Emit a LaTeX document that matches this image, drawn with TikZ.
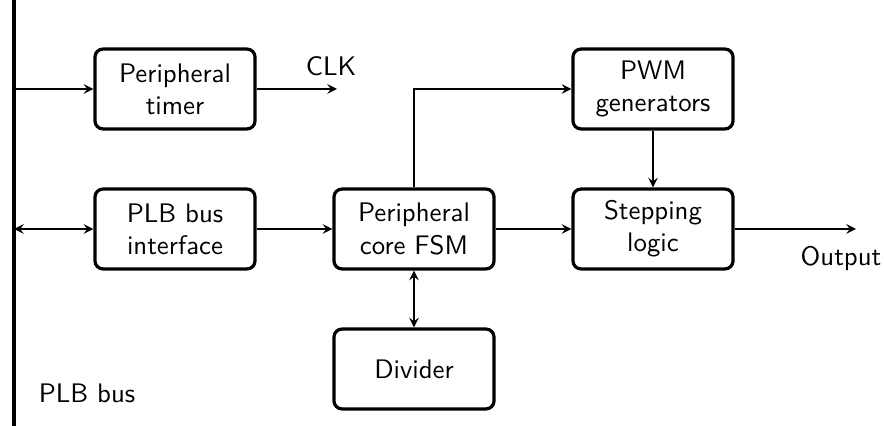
\documentclass[tikz,border=0pt]{standalone}
\usepackage{amsmath,amssymb}
\usepackage{xcolor}
\usetikzlibrary{positioning,arrows}

\tikzset{
  block/.style={draw,very thick,rounded corners=3pt,minimum width=59.7pt,minimum height=29.8pt,align=center,inner sep=1pt,font=\sffamily},
  link/.style={semithick,-stealth},
  dlink/.style={semithick,stealth-stealth},
  lbl/.style={font=\sffamily,inner sep=1pt}
}

\begin{document}
\begin{tikzpicture}[x=0.373pt,y=-0.373pt]
\useasboundingbox (0,0) rectangle (884,426);
% bus
\coordinate (bustop) at (14,0);
\coordinate (busbot) at (14,426);
\draw[line width=1.6pt] (bustop)--(busbot);
\node[lbl] (buslbl) at (87,393) {PLB bus};
% blocks
\node[block] (timer) at (175,89) {Peripheral\\timer};
\node[block] (plbif) at (175,229) {PLB bus\\interface};
\node[block] (fsm) at (414,229) {Peripheral\\core FSM};
\node[block] (pwm) at (653,89) {PWM\\generators};
\node[block] (step) at (653,229) {Stepping\\logic};
\node[block] (div) at (414,369) {Divider};
% free ends
\coordinate (busa) at (14,89);
\coordinate (busb) at (14,229);
\coordinate (clk) at (337,89);
\coordinate (out) at (856,229);
\node[lbl,anchor=south] (clklbl) at (331,79) {CLK};
\node[lbl,anchor=north] (outlbl) at (841,243) {Output};
% connections
\draw[link] (busa)--(timer.west);
\draw[link] (timer.east)--(clk);
\draw[dlink] (busb)--(plbif.west);
\draw[link] (plbif)--(fsm);
\draw[link] (fsm)--(step);
\draw[link] (fsm.north)|-(pwm.west);
\draw[link] (pwm)--(step);
\draw[dlink] (fsm)--(div);
\draw[link] (step.east)--(out);
\end{tikzpicture}
\end{document}
